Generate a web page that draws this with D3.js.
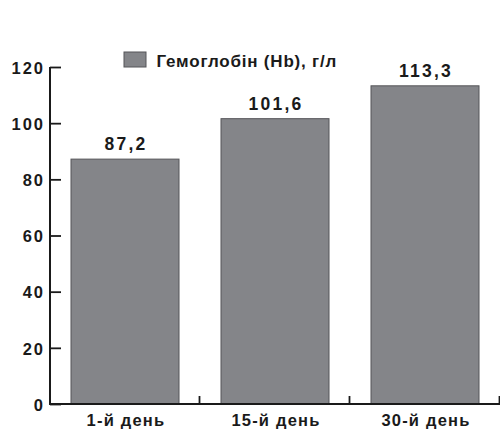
<!DOCTYPE html>
<html>
<head>
<meta charset="utf-8">
<script src="https://cdn.jsdelivr.net/npm/d3@7"></script>
<style>
  html, body { margin: 0; padding: 0; background: #fff; }
  svg text { font-family: "Liberation Sans", Arial, sans-serif; font-weight: bold; fill: #1a1a1a; }
</style>
</head>
<body>
<svg id="chart" width="500" height="430"></svg>
<script>
const categories = ["1-й день", "15-й день", "30-й день"];
const values = [87.2, 101.6, 113.3];
const valueLabels = ["87,2", "101,6", "113,3"];
const yTicks = [0, 20, 40, 60, 80, 100, 120];
const seriesName = "Гемоглобін (Hb), г/л";

const svg = d3.select("#chart");
const margin = { left: 50, right: 0, top: 67, bottom: 26 };
const W = 500, H = 430;

const x = d3.scaleBand().domain(categories)
  .range([margin.left, W - margin.right])
  .paddingInner(0.28).paddingOuter(0.14);
const xBound = d3.scaleBand().domain(categories)
  .range([margin.left, W - margin.right]);
const y = d3.scaleLinear().domain([0, 120]).range([H - margin.bottom, margin.top]);

// bars
svg.append("g").selectAll("rect").data(values).join("rect")
  .attr("x", (d, i) => x(categories[i]))
  .attr("y", d => y(d))
  .attr("width", x.bandwidth())
  .attr("height", d => y(0) - y(d))
  .attr("fill", "#848589")
  .attr("stroke", "#555558")
  .attr("stroke-width", 1);

// value labels
svg.append("g").selectAll("text").data(values).join("text")
  .attr("x", (d, i) => x(categories[i]) + x.bandwidth() / 2 + 1)
  .attr("y", d => y(d) - 9)
  .attr("text-anchor", "middle")
  .attr("font-size", 17.5)
  .attr("letter-spacing", 2.2)
  .text((d, i) => valueLabels[i]);

// y axis
const yAxis = d3.axisRight(y).tickValues(yTicks).tickSize(11).tickFormat(d => d);
const gy = svg.append("g").attr("transform", `translate(${margin.left},0)`).call(yAxis);
gy.select(".domain").attr("stroke", "#1a1a1a").attr("stroke-width", 2)
  .attr("d", `M0,${y(120)}V${y(0)}`);
gy.selectAll(".tick line").attr("stroke", "#1a1a1a").attr("stroke-width", 1.8);
gy.selectAll(".tick text")
  .attr("x", -5).attr("text-anchor", "end").attr("dy", "0.38em")
  .attr("font-size", 16.5)
  .attr("letter-spacing", 2)
  .style("font-family", "'Liberation Sans', Arial, sans-serif")
  .style("font-weight", "bold").attr("fill", "#1a1a1a");

// x axis baseline and category boundary ticks
svg.append("line")
  .attr("x1", margin.left - 1).attr("x2", W - margin.right)
  .attr("y1", y(0)).attr("y2", y(0))
  .attr("stroke", "#1a1a1a").attr("stroke-width", 2);
svg.append("g").selectAll("line").data(categories).join("line")
  .attr("x1", d => xBound(d) + xBound.bandwidth() - 0.5)
  .attr("x2", d => xBound(d) + xBound.bandwidth() - 0.5)
  .attr("y1", y(0)).attr("y2", y(0) - 8)
  .attr("stroke", "#1a1a1a").attr("stroke-width", 1.8);

// category labels
svg.append("g").selectAll("text").data(categories).join("text")
  .attr("x", d => x(d) + x.bandwidth() / 2 + 1)
  .attr("y", H - 4.5)
  .attr("text-anchor", "middle")
  .attr("font-size", 16.5)
  .attr("letter-spacing", 1.2)
  .text(d => d);

// legend
const lg = svg.append("g").attr("transform", "translate(124,52)");
lg.append("rect").attr("width", 22).attr("height", 15)
  .attr("fill", "#848589").attr("stroke", "#555558").attr("stroke-width", 1);
lg.append("text").attr("x", 32.5).attr("y", 15.3)
  .attr("font-size", 17)
  .attr("letter-spacing", 0.8)
  .text(seriesName);
</script>
</body>
</html>
